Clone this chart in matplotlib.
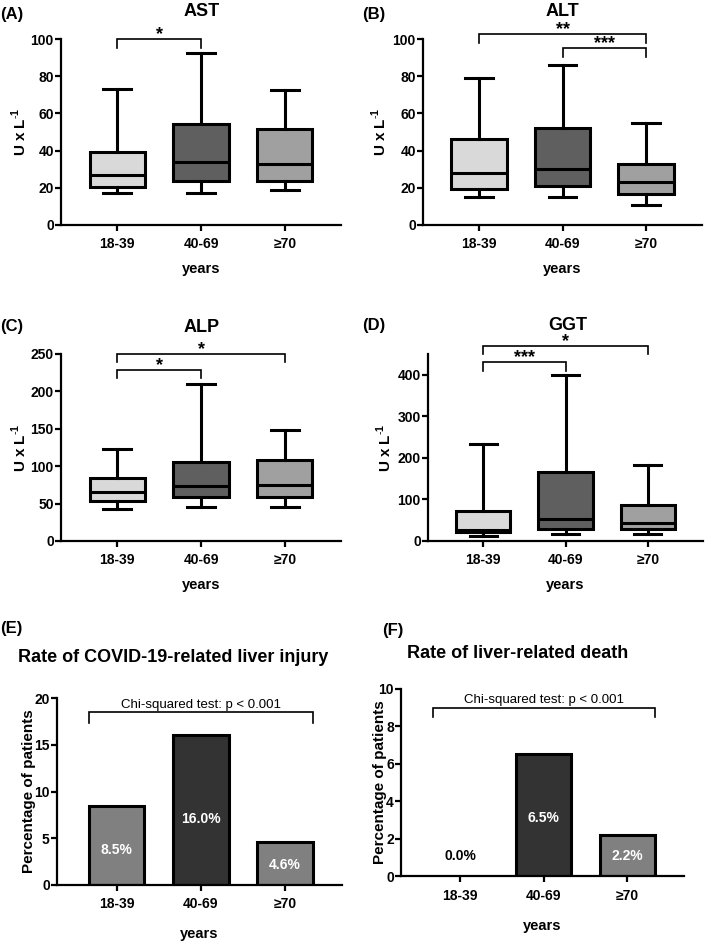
import numpy as np
import matplotlib
matplotlib.use('Agg')
import matplotlib.pyplot as plt

plt.rcParams['font.family'] = ['Liberation Sans', 'DejaVu Sans']
plt.rcParams['mathtext.fontset'] = 'custom'
plt.rcParams['mathtext.rm'] = 'Liberation Sans'
plt.rcParams['mathtext.bf'] = 'Liberation Sans:bold'

## age groups
groups = ['18-39', '40-69', '\u226570']

## box plot values (whisker low, q1, median, q3, whisker high)
ast_lo = [17, 17, 19]
ast_q1 = [20.6, 23.4, 23.4]
ast_med = [27, 34, 32.8]
ast_q3 = [39.2, 54.2, 51.4]
ast_hi = [73.1, 92.7, 72.6]

alt_lo = [15, 15, 11]
alt_q1 = [19.5, 21, 16.7]
alt_med = [27.8, 29.9, 22.9]
alt_q3 = [46.4, 52.2, 33]
alt_hi = [78.9, 86, 55]

alp_lo = [43, 44.8, 44.8]
alp_q1 = [52.9, 58.2, 58.7]
alp_med = [65.4, 73, 75.3]
alp_q3 = [84.7, 105.7, 108.9]
alp_hi = [123.2, 209.7, 147.8]

ggt_lo = [13, 17, 17]
ggt_q1 = [21, 29, 29]
ggt_med = [27, 54, 43]
ggt_q3 = [72, 166, 86]
ggt_hi = [234, 400, 183]

## rates (%)
injury_rate = [8.5, 16.0, 4.6]
death_rate = [0.0, 6.5, 2.2]

box_colors = ['#d9d9d9', '#5f5f5f', '#a0a0a0']
bar_colors = ['#808080', '#333333', '#808080']

W, H = 709, 942


## axes from pixel box (left, top, right, bottom)
def px_axes(fig, l, t, r, b):
    ax = fig.add_axes([l / W, 1 - b / H, (r - l) / W, (b - t) / H])
    ax.px_box = (l, t, r, b)
    return ax


def ylabel_at(ax, xpx):
    l, t, r, b = ax.px_box
    ax.yaxis.set_label_coords((xpx - l) / (r - l), 0.5)


def style_axes(ax, xlim):
    for s in ['top', 'right']:
        ax.spines[s].set_visible(False)
    for s in ['left', 'bottom']:
        ax.spines[s].set_linewidth(1.6)
    ax.set_xlim(*xlim)
    ax.set_xticks(range(len(groups)))
    ax.set_xticklabels(groups)
    ax.tick_params(width=1.6, length=4, labelsize=10, pad=5)
    ax.tick_params(axis='y', pad=1.2)
    for lab in ax.get_xticklabels() + ax.get_yticklabels():
        lab.set_fontweight('bold')


def bracket(ax, x0, x1, y, tip, txt, size=13, bold=True, dy=0):
    ax.plot([x0, x0, x1, x1], [y - tip, y, y, y - tip], color='black', lw=1.2,
            clip_on=False, solid_joinstyle='miter')
    ax.annotate(txt, xy=((x0 + x1) / 2, y), xytext=(0, dy), textcoords='offset points',
                ha='center', va='bottom', fontsize=size,
                fontweight='bold' if bold else 'normal', annotation_clip=False)


def box_panel(ax, lo, q1, med, q3, hi, ylim, yticks):
    stats = []
    for i in range(len(groups)):
        stats.append(dict(whislo=lo[i], q1=q1[i], med=med[i], q3=q3[i],
                          whishi=hi[i], fliers=[]))
    lw = 2.2
    bp = ax.bxp(stats, positions=range(len(groups)), widths=0.66, capwidths=0.33,
                patch_artist=True, showfliers=False,
                boxprops=dict(linewidth=lw, edgecolor='black'),
                medianprops=dict(linewidth=lw, color='black'),
                whiskerprops=dict(linewidth=lw, color='black'),
                capprops=dict(linewidth=lw, color='black'))
    for patch, c in zip(bp['boxes'], box_colors):
        patch.set_facecolor(c)
    style_axes(ax, (-0.67, 2.67))
    ax.set_ylim(*ylim)
    ax.set_yticks(yticks)
    for lab in ax.get_yticklabels():
        lab.set_fontweight('bold')
    ax.set_ylabel(r'U x L$^{\mathbf{\text{-}1}}$', fontsize=11, fontweight='bold')
    ax.set_xlabel('years', fontsize=10.5, fontweight='bold', labelpad=7.5)


def bar_panel(ax, vals, ylim, yticks, lab_frac, xpad):
    for i, v in enumerate(vals):
        ax.bar(i, v, width=0.66, color=bar_colors[i], edgecolor='black',
               linewidth=2.2 if v > 0 else 0)
    style_axes(ax, (-0.71, 2.68))
    ax.set_ylim(*ylim)
    ax.set_yticks(yticks)
    for lab in ax.get_yticklabels():
        lab.set_fontweight('bold')
    ax.set_ylabel('Percentage of patients', fontsize=11, fontweight='bold')
    ax.set_xlabel('years', fontsize=10.5, fontweight='bold', labelpad=xpad)
    for i, v in enumerate(vals):
        ypos = max(v * lab_frac, ylim[1] * 0.105)
        ax.text(i, ypos, '%.1f%%' % v, ha='center', va='center', fontsize=10,
                fontweight='bold', color='white' if v > 0 else 'black')


fig = plt.figure(figsize=(W / 100, H / 100), dpi=100)

## (A) AST
ax = px_axes(fig, 61, 39, 341, 225)
box_panel(ax, ast_lo, ast_q1, ast_med, ast_q3, ast_hi, (0, 100), range(0, 101, 20))
ylabel_at(ax, 29)
bracket(ax, 0, 1, 100, 4.7, '*', dy=-3)

## (B) ALT
ax = px_axes(fig, 423, 39, 702, 225)
box_panel(ax, alt_lo, alt_q1, alt_med, alt_q3, alt_hi, (0, 100), range(0, 101, 20))
ylabel_at(ax, 389)
bracket(ax, 0, 2, 102.7, 4.7, '**', dy=-3)
bracket(ax, 1, 2, 95, 4.7, '***', dy=-3)

## (C) ALP
ax = px_axes(fig, 61, 354, 341, 541)
box_panel(ax, alp_lo, alp_q1, alp_med, alp_q3, alp_hi, (0, 250), range(0, 251, 50))
ylabel_at(ax, 29)
bracket(ax, 0, 2, 250, 11, '*', dy=-3)
bracket(ax, 0, 1, 229, 11, '*', dy=-3)

## (D) GGT
ax = px_axes(fig, 428, 354, 703, 541)
box_panel(ax, ggt_lo, ggt_q1, ggt_med, ggt_q3, ggt_hi, (0, 450), range(0, 401, 100))
ylabel_at(ax, 394)
bracket(ax, 0, 2, 470, 21, '*', dy=-3)
bracket(ax, 0, 1, 430, 21, '***', dy=-3)

## (E) liver injury
ax = px_axes(fig, 57, 698, 342, 885)
bar_panel(ax, injury_rate, (0, 20), range(0, 21, 5), 0.44, 11)
ylabel_at(ax, 36)
bracket(ax, -0.33, 2.33, 18.5, 1.2, 'Chi-squared test: p < 0.001', size=9.5, bold=False, dy=1)

## (F) liver death
ax = px_axes(fig, 401, 689, 684, 876)
bar_panel(ax, death_rate, (0, 10), range(0, 11, 2), 0.48, 12)
ylabel_at(ax, 387)
bracket(ax, -0.33, 2.33, 9.0, 0.5, 'Chi-squared test: p < 0.001', size=9.5, bold=False, dy=1)

## panel letters and titles
for txt, x, y in [('(A)', 0, 14), ('(B)', 362, 14), ('(C)', 0, 327), ('(D)', 362, 326),
                  ('(E)', 0, 628), ('(F)', 382, 630)]:
    fig.text(x / W, 1 - y / H, txt, fontsize=12, fontweight='bold', ha='left', va='center')
for txt, x, y in [('AST', 202, 11), ('ALT', 562, 11), ('ALP', 202, 327), ('GGT', 568, 326)]:
    fig.text(x / W, 1 - y / H, txt, fontsize=13, fontweight='bold', ha='center', va='center')
fig.text(18 / W, 1 - 657 / H, 'Rate of COVID-19-related liver injury', fontsize=13,
         fontweight='bold', ha='left', va='center')
fig.text(407 / W, 1 - 653 / H, 'Rate of liver-related death', fontsize=13,
         fontweight='bold', ha='left', va='center')

fig.savefig('out.png', dpi=100)
